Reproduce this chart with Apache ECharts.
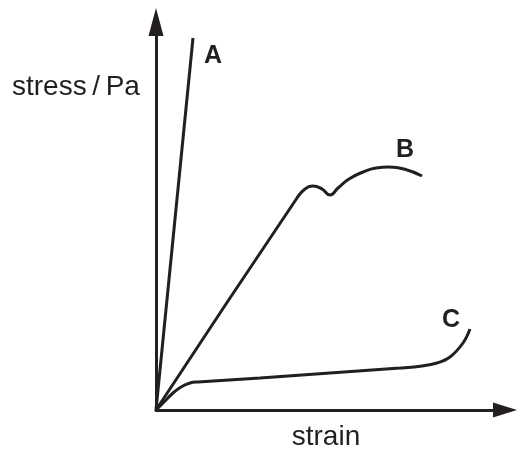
<!DOCTYPE html>
<html><head><meta charset="utf-8">
<script src="https://cdn.jsdelivr.net/npm/echarts@6/dist/echarts.min.js"></script>
<style>html,body{margin:0;padding:0;background:#fff}#c{width:517px;height:452px}</style>
</head><body><div id="c"></div>
<script>
// strain / stress values (arbitrary units)
const seriesNames = ['A', 'B', 'C'];
const strainA = [0, 37];
const stressA = [0, 372];
const strainB = [0, 141, 149, 157, 166, 174, 182, 193, 207, 220, 233, 248, 266];
const stressB = [0, 212, 221, 224, 221, 215, 222, 231, 238, 242, 243, 241, 234];
const strainC = [0, 9, 17, 25, 34, 42, 104, 244, 266, 281, 294, 307, 314];
const stressC = [0, 9, 17, 23, 27, 28, 32, 42, 44, 47, 53, 67, 81];
const xAxisName = 'strain';
const yAxisName = 'stress\u2009/\u2009Pa';

const ink = '#231f20';
const pair = (xs, ys) => xs.map((x, i) => [x, ys[i]]);
const chart = echarts.init(document.getElementById('c'), null, {renderer: 'canvas'});
const lineStyle = {color: ink, width: 3};
const axisCommon = {
  type: 'value', min: 0,
  axisTick: {show: false}, axisLabel: {show: false}, splitLine: {show: false}
};
const axisLine = (size) => ({show: true, onZero: false, lineStyle: {color: ink, width: 3},
  symbol: ['none', 'triangle'], symbolSize: size});
const labelFont = 'bold 25px "Liberation Sans"';
chart.setOption({
  animation: false,
  backgroundColor: '#fff',
  grid: {left: 156, right: 12, top: 22, bottom: 42},
  xAxis: Object.assign({}, axisCommon, {max: 349, axisLine: axisLine([15, 24])}),
  yAxis: Object.assign({}, axisCommon, {max: 388, axisLine: axisLine([15, 28])}),
  series: [
    {name: seriesNames[0], type: 'line', data: pair(strainA, stressA), showSymbol: false, lineStyle, silent: true},
    {name: seriesNames[1], type: 'line', data: pair(strainB, stressB), showSymbol: false, smooth: 0.5, lineStyle, silent: true},
    {name: seriesNames[2], type: 'line', data: pair(strainC, stressC), showSymbol: false, smooth: 0.4, lineStyle, silent: true}
  ],
  graphic: [
    {type: 'text', x: 12, y: 87, style: {text: yAxisName, font: '28px "Liberation Sans"', fill: ink, verticalAlign: 'middle'}},
    {type: 'text', x: 326, y: 437, style: {text: xAxisName, font: '28px "Liberation Sans"', fill: ink, align: 'center', verticalAlign: 'middle'}},
    {type: 'text', x: 213, y: 56, style: {text: seriesNames[0], font: labelFont, fill: ink, align: 'center', verticalAlign: 'middle'}},
    {type: 'text', x: 405, y: 150, style: {text: seriesNames[1], font: labelFont, fill: ink, align: 'center', verticalAlign: 'middle'}},
    {type: 'text', x: 451, y: 320, style: {text: seriesNames[2], font: labelFont, fill: ink, align: 'center', verticalAlign: 'middle'}}
  ]
});
</script></body></html>
